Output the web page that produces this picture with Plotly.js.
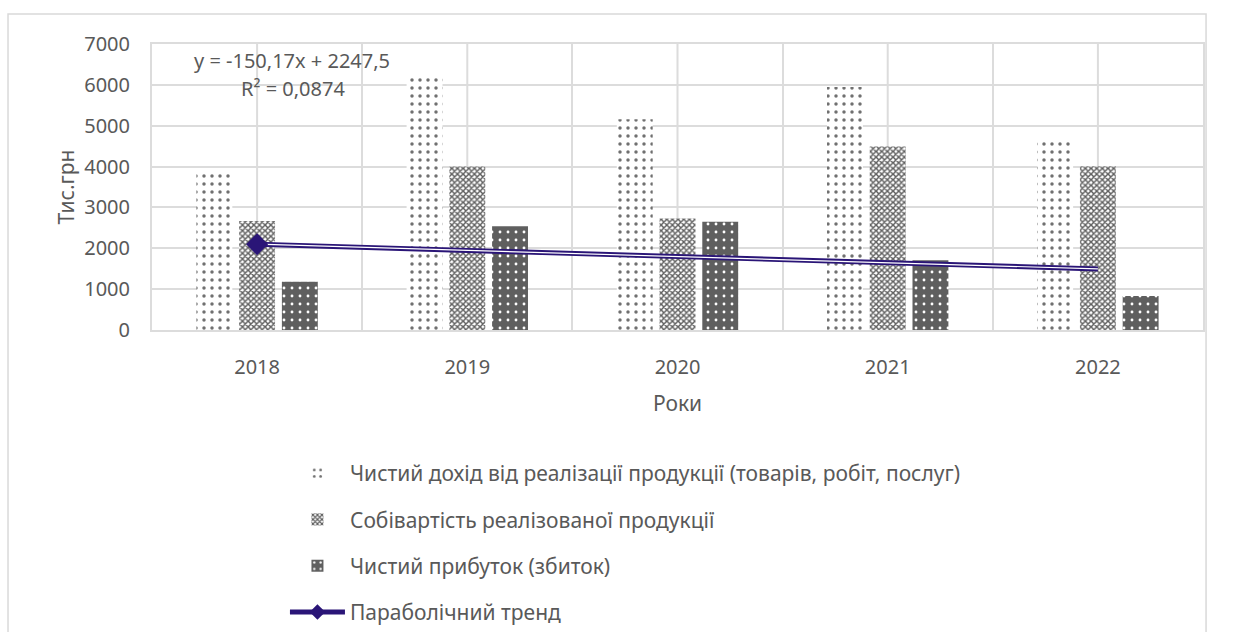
<!DOCTYPE html>
<html>
<head>
<meta charset="utf-8">
<script src="https://cdn.plot.ly/plotly-3.0.1.min.js"></script>
<style>html,body{margin:0;padding:0;background:#fff;}#chart{width:1233px;height:632px;}</style>
</head>
<body>
<div id="chart"></div>
<script>
// Data
const years = ['2018', '2019', '2020', '2021', '2022'];
const netIncome = [3860, 6250, 5160, 5950, 4630];      // Чистий дохід від реалізації продукції
const costOfSales = [2670, 4000, 2730, 4490, 4010];    // Собівартість реалізованої продукції
const netProfit = [1180, 2540, 2650, 1710, 830];       // Чистий прибуток (збиток)
const trendValues = [2100, 1950, 1800, 1650, 1495];    // Параболічний тренд (linear trendline)

const seriesNames = [
  'Чистий дохід від реалізації продукції (товарів, робіт, послуг)',
  'Собівартість реалізованої продукції',
  'Чистий прибуток (збиток)',
  'Параболічний тренд'
];
const equationLines = ['y = -150,17x + 2247,5', 'R² = 0,0874'];

const FONT = 'Noto Sans, DejaVu Sans, sans-serif';
const GREY_TXT = '#595959';
const GRID = '#dcdcdc';
const PURPLE = '#2a1577';

const traces = [
  {
    type: 'bar', x: years, y: netIncome, name: seriesNames[0], legendgroup: 'a',
    marker: {color: '#ffffff', line: {width: 0},
      pattern: {shape: '.', fgcolor: '#707070', bgcolor: '#ffffff', size: 8, solidity: 0.15, fillmode: 'replace'}}
  },
  {
    type: 'bar', x: years, y: costOfSales, name: seriesNames[1], legendgroup: 'b',
    marker: {color: '#ffffff', line: {width: 0},
      pattern: {shape: 'x', fgcolor: '#606060', bgcolor: '#ffffff', size: 4, solidity: 0.6, fillmode: 'replace'}}
  },
  {
    type: 'bar', x: years, y: netProfit, name: seriesNames[2], legendgroup: 'c',
    marker: {color: '#5f5f5f', line: {width: 0},
      pattern: {shape: '.', fgcolor: '#ffffff', bgcolor: '#5f5f5f', size: 8, solidity: 0.1, fillmode: 'replace'}}
  },
  {
    type: 'scatter', mode: 'lines', x: years, y: trendValues, showlegend: false, hoverinfo: 'skip',
    line: {color: PURPLE, width: 5}
  },
  {
    type: 'scatter', mode: 'lines', x: years, y: trendValues, showlegend: false, hoverinfo: 'skip',
    line: {color: '#ffffff', width: 1.2}
  },
  {
    type: 'scatter', mode: 'lines+markers', x: [years[0]], y: [trendValues[0]], name: seriesNames[3], legendgroup: 'd',
    line: {color: PURPLE, width: 4},
    marker: {symbol: 'diamond', size: 17, color: PURPLE}
  }
];

const centerShapes = years.map((y, i) => ({
  type: 'line', xref: 'x', yref: 'paper', x0: i, x1: i, y0: 0, y1: 1,
  line: {color: GRID, width: 2}, layer: 'below'
}));

const layout = {
  width: 1233, height: 632,
  margin: {l: 152, r: 30, t: 44, b: 302, autoexpand: false},
  paper_bgcolor: '#ffffff', plot_bgcolor: '#ffffff',
  font: {family: FONT, color: GREY_TXT, size: 20},
  barmode: 'group', bargap: 0.39, bargroupgap: 0.16,
  xaxis: {
    type: 'category', categoryorder: 'array', categoryarray: years,
    range: [-0.5, years.length - 0.5], autorange: false, automargin: false,
    tickson: 'boundaries', showgrid: true, gridcolor: GRID, gridwidth: 2,
    showline: true, linecolor: GRID, linewidth: 2, mirror: true, ticks: '', tickangle: 0,
    tickfont: {size: 20, color: GREY_TXT}, ticklabelstandoff: 18,
    title: {text: 'Роки', font: {size: 21, color: GREY_TXT}, standoff: 17}
  },
  yaxis: {
    range: [0, 7000], autorange: false, automargin: false, dtick: 1000, showgrid: true, gridcolor: GRID, gridwidth: 2,
    zeroline: false, showline: true, linecolor: GRID, linewidth: 2, mirror: true, ticks: '',
    tickfont: {size: 20, color: GREY_TXT}, ticklabelstandoff: 16,
    title: {text: 'Тис.грн', font: {size: 21, color: GREY_TXT}, standoff: 4}
  },
  showlegend: true,
  legend: {
    x: 0.1265, y: -0.43, xanchor: 'left', yanchor: 'top',
    orientation: 'v', traceorder: 'grouped', tracegroupgap: 16,
    font: {size: 21, color: GREY_TXT}, itemwidth: 55, itemsizing: 'constant',
    bgcolor: 'rgba(0,0,0,0)'
  },
  annotations: [
    {xref: 'paper', yref: 'paper', x: 0.133, y: 0.944, xanchor: 'center', yanchor: 'middle',
     text: equationLines[0], showarrow: false, font: {size: 20, color: GREY_TXT}},
    {xref: 'paper', yref: 'paper', x: 0.134, y: 0.843, xanchor: 'center', yanchor: 'middle',
     text: equationLines[1], showarrow: false, font: {size: 20, color: GREY_TXT}}
  ],
  shapes: centerShapes.concat([{
    type: 'rect', xref: 'paper', yref: 'paper',
    x0: -0.137, x1: 1.0029, y0: -1.2, y1: 1.105,
    line: {color: '#d9d9d9', width: 1.5}, fillcolor: 'rgba(0,0,0,0)', layer: 'below'
  }])
};

Plotly.newPlot('chart', traces, layout, {displayModeBar: false, staticPlot: true});
</script>
</body>
</html>
